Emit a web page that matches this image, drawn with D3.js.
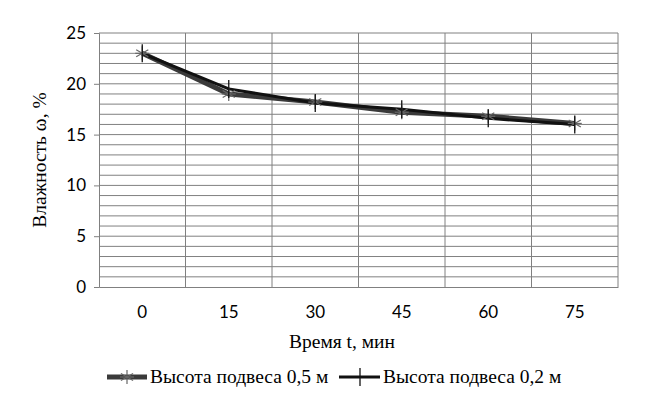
<!DOCTYPE html>
<html lang="ru">
<head>
<meta charset="UTF-8">
<title>Влажность</title>
<script src="https://d3js.org/d3.v7.min.js"></script>
<style>
  body { margin: 0; background: #fff; }
  svg { display: block; }
  .tick text { font-family: Lato, "Open Sans", sans-serif; font-size: 17px; fill: #000; }
  .title { font-family: "Liberation Serif", "DejaVu Serif", serif; font-size: 19.5px; fill: #000; }
</style>
</head>
<body>
<div id="chart"></div>
<script>
// данные с графика
const times = ["0", "15", "30", "45", "60", "75"];
const high05 = [23.0, 19.0, 18.2, 17.2, 16.8, 16.1];
const high02 = [23.0, 19.5, 18.1, 17.5, 16.6, 16.0];
const yTicks = [0, 5, 10, 15, 20, 25];
const seriesNames = ["Высота подвеса 0,5 м", "Высота подвеса 0,2 м"];

const width = 655, height = 397;
const m = { left: 99, right: 37, top: 33, bottom: 110 };

const svg = d3.select("#chart").append("svg")
  .attr("width", width)
  .attr("height", height);

const x = d3.scaleBand().domain(times).range([m.left, width - m.right]);
const y = d3.scaleLinear().domain([0, 25]).range([height - m.bottom, m.top]);

// горизонтальная сетка, шаг 1
svg.append("g")
  .selectAll("line")
  .data(d3.range(1, 26))
  .join("line")
  .attr("x1", m.left).attr("x2", width - m.right)
  .attr("y1", d => y(d)).attr("y2", d => y(d))
  .attr("stroke", "#808080").attr("stroke-width", 1);

// вертикальная сетка между категориями
svg.append("g")
  .selectAll("line")
  .data(times.slice(1).concat(["end"]))
  .join("line")
  .attr("x1", (d, i) => x.range()[0] + x.step() * (i + 1))
  .attr("x2", (d, i) => x.range()[0] + x.step() * (i + 1))
  .attr("y1", y(0)).attr("y2", y(25))
  .attr("stroke", "#808080").attr("stroke-width", 1);

// ось Y
const yAxis = svg.append("g")
  .attr("transform", `translate(${m.left},0)`)
  .call(d3.axisLeft(y).tickValues(yTicks).tickSize(5).tickPadding(8));
yAxis.selectAll("line").attr("stroke", "#808080");
yAxis.select(".domain").attr("stroke", "#808080");

// ось X
const xAxis = svg.append("g")
  .attr("transform", `translate(0,${y(0)})`)
  .call(d3.axisBottom(x).tickSize(0).tickPadding(19));
xAxis.select(".domain").attr("stroke", "#808080");

// линии
const line = d3.line()
  .x((d, i) => x(times[i]) + x.bandwidth() / 2)
  .y(d => y(d));

svg.append("path").datum(high05)
  .attr("d", line).attr("fill", "none")
  .attr("stroke", "#3a3a3a").attr("stroke-width", 5)
  .attr("stroke-linejoin", "round");

svg.append("path").datum(high02)
  .attr("d", line).attr("fill", "none")
  .attr("stroke", "#111").attr("stroke-width", 3)
  .attr("stroke-linejoin", "round");

// маркеры-звёздочки
function star(g, cx, cy) {
  const r = 7;
  [0, 60, 120].forEach(a => {
    const rad = a * Math.PI / 180;
    g.append("line")
      .attr("x1", cx - r * Math.sin(rad)).attr("y1", cy - r * Math.cos(rad))
      .attr("x2", cx + r * Math.sin(rad)).attr("y2", cy + r * Math.cos(rad))
      .attr("stroke", "#666").attr("stroke-width", 1.2);
  });
  g.append("line")
    .attr("x1", cx - r).attr("x2", cx + r).attr("y1", cy).attr("y2", cy)
    .attr("stroke", "#666").attr("stroke-width", 1.2);
}
function plus(g, cx, cy) {
  g.append("line")
    .attr("x1", cx).attr("x2", cx).attr("y1", cy - 9).attr("y2", cy + 9)
    .attr("stroke", "#111").attr("stroke-width", 1.3);
}

const mk = svg.append("g");
high05.forEach((v, i) => star(mk, x(times[i]) + x.bandwidth() / 2, y(v)));
high02.forEach((v, i) => plus(mk, x(times[i]) + x.bandwidth() / 2, y(v)));

// подписи осей
svg.append("text").attr("class", "title")
  .attr("x", 342).attr("y", 348)
  .attr("text-anchor", "middle")
  .text("Время t, мин");

svg.append("text").attr("class", "title")
  .attr("transform", `translate(46,${(y(0) + y(25)) / 2}) rotate(-90)`)
  .attr("text-anchor", "middle")
  .text("Влажность ω, %");

// легенда
const leg = svg.append("g");
const ly = 377;
leg.append("line").attr("x1", 107).attr("x2", 147).attr("y1", ly).attr("y2", ly)
  .attr("stroke", "#3a3a3a").attr("stroke-width", 5);
star(leg, 127, ly);
leg.append("text").attr("class", "title").attr("x", 150).attr("y", ly + 6)
  .text(seriesNames[0]);

leg.append("line").attr("x1", 339).attr("x2", 380).attr("y1", ly).attr("y2", ly)
  .attr("stroke", "#111").attr("stroke-width", 3);
plus(leg, 360, ly);
leg.append("text").attr("class", "title").attr("x", 383).attr("y", ly + 6)
  .text(seriesNames[1]);
</script>
</body>
</html>
